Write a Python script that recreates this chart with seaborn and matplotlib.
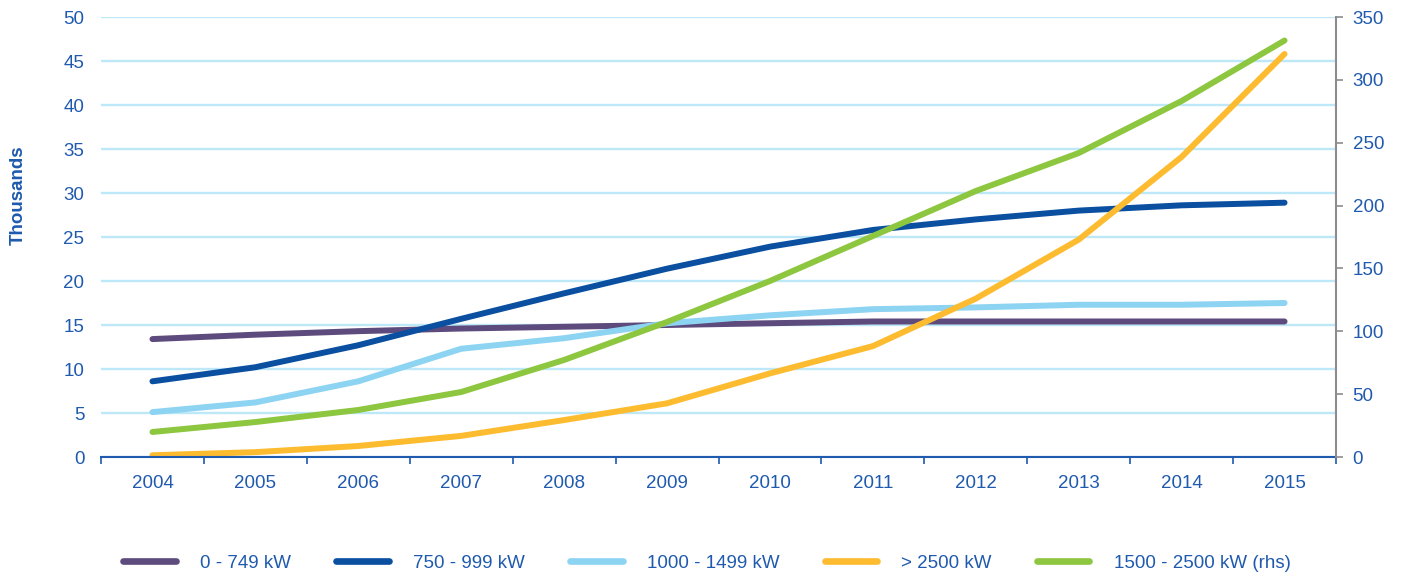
import numpy as np
import pandas as pd
import matplotlib
matplotlib.use("Agg")
import matplotlib.pyplot as plt
from matplotlib.lines import Line2D
import seaborn as sns

years = ["2004", "2005", "2006", "2007", "2008", "2009", "2010", "2011", "2012", "2013", "2014", "2015"]
s_0_749 = [13.4, 13.9, 14.3, 14.6, 14.8, 15.0, 15.2, 15.4, 15.4, 15.4, 15.4, 15.4]
s_750_999 = [8.6, 10.2, 12.7, 15.7, 18.6, 21.4, 23.9, 25.8, 27.0, 28.0, 28.6, 28.9]
s_1000_1499 = [5.1, 6.2, 8.6, 12.3, 13.5, 15.2, 16.1, 16.8, 17.0, 17.3, 17.3, 17.5]
s_gt_2500 = [0.2, 0.55, 1.25, 2.4, 4.2, 6.1, 9.5, 12.6, 18.0, 24.7, 34.1, 45.8]
s_1500_2500_rhs = [19.9, 27.8, 37.4, 51.7, 77.2, 107.4, 140.0, 175.8, 211.6, 241.8, 283.2, 331.3]

labels = ["0 - 749 kW", "750 - 999 kW", "1000 - 1499 kW", "> 2500 kW", "1500 - 2500 kW (rhs)"]
colors = ["#5E4B7D", "#0A4FA0", "#8DD3F2", "#FDBB30", "#8DC63F"]

sns.set_theme(style="white")
plt.rcParams['font.family'] = ['Liberation Sans', 'DejaVu Sans']
txt = "#1F5AAE"
fs = 13.5

fig = plt.figure(figsize=(14.02, 5.79), dpi=100)
ax = fig.add_axes([101/1402, 1-457/579, (1336-101)/1402, (457-17)/579])
ax2 = ax.twinx()

x = np.arange(len(years))
lw = 4.3
for vals, c in zip([s_0_749, s_750_999, s_1000_1499, s_gt_2500], colors[:4]):
    sns.lineplot(x=x, y=vals, ax=ax, color=c, linewidth=lw, solid_capstyle="round", legend=False)
sns.lineplot(x=x, y=s_1500_2500_rhs, ax=ax2, color=colors[4], linewidth=lw, solid_capstyle="round", legend=False)

ax.set_xlim(-0.5, len(years) - 0.5)
ax.set_ylim(0, 50)
ax2.set_ylim(0, 350)
ax.set_yticks(np.arange(0, 51, 5))
ax2.set_yticks(np.arange(0, 351, 50))
ax.yaxis.grid(True, color="#BDE8F8", linewidth=1.7)
ax.xaxis.grid(False)
ax.set_axisbelow(True)

ax.set_xticks(x)
ax.set_xticklabels(years)
ax.set_xticks(np.arange(-0.5, len(years), 1.0), minor=True)
ax.tick_params(axis="x", which="major", length=0, pad=13, labelsize=fs, labelcolor=txt)
ax.tick_params(axis="x", which="minor", length=5, width=1.2, color="#1F5AAE", direction="out", bottom=True)
ax.tick_params(axis="y", length=0, pad=12, labelsize=fs, labelcolor=txt)
ax2.tick_params(axis="y", length=5, width=1.2, color="#8C8C8C", direction="out", right=True, pad=7, labelsize=fs, labelcolor=txt)

for sp in ["top", "left", "right"]:
    ax.spines[sp].set_visible(False)
ax.spines["bottom"].set_color("#1F5AAE")
ax.spines["bottom"].set_linewidth(1.5)
for sp in ["top", "left", "bottom"]:
    ax2.spines[sp].set_visible(False)
ax2.spines["right"].set_color("#8C8C8C")
ax2.spines["right"].set_linewidth(1.5)

ax.set_ylabel("")
ax2.set_ylabel("")
fig.text(18/1402, 1-195/579, "Thousands", rotation=90, ha="center", va="center",
         fontsize=fs, fontweight="bold", color=txt)

handles = [Line2D([0], [0], color=c, linewidth=4.8, solid_capstyle="round") for c in colors]
leg = fig.legend(handles, labels, loc="center", bbox_to_anchor=(707/1402, 1-563/579), ncol=5,
                 frameon=False, handlelength=2.8, handletextpad=1.3, columnspacing=2.4,
                 fontsize=fs, borderpad=0, borderaxespad=0)
for t in leg.get_texts():
    t.set_color(txt)

fig.savefig("out.png", dpi=100)
